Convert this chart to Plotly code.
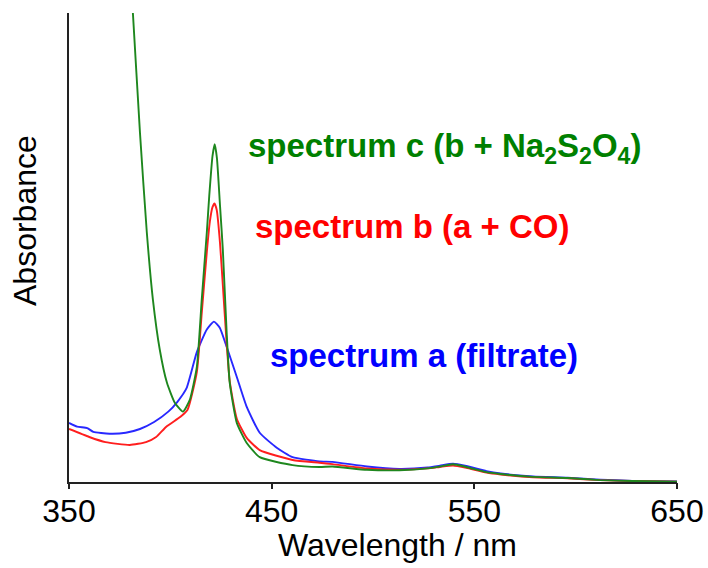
import plotly.graph_objects as go

# Wavelength (nm) and absorbance (arbitrary units, 0-100 full scale)
wl_a = [350, 354, 359, 362, 370, 378, 385, 392, 399, 403.5, 408, 413, 418, 421.5, 424.4,
        427.8, 432.8, 437.7, 444.1, 452.5, 460.3, 473.6, 480, 497, 513, 527, 533, 539.5,
        546, 556, 563, 579, 596, 612, 628, 650]
abs_a = [12.6, 11.8, 11.5, 10.7, 10.3, 10.5, 11.3, 12.8, 15.0, 17.1, 20.0, 27.6, 32.5, 34.2, 32.9,
         28.8, 22.4, 16.0, 10.5, 7.3, 5.3, 4.4, 4.3, 3.3, 2.8, 3.1, 3.5, 3.9,
         3.4, 2.3, 1.8, 1.2, 0.9, 0.5, 0.25, 0.1]

wl_b = [350, 360, 368, 380, 388, 393, 398, 405, 408.5, 413.1, 415.5, 418, 419.5, 420.8, 421.8,
        422.9, 424.5, 425.9, 427.8, 429.3, 432.8, 437.7, 444.1, 460.3, 473.6, 480, 497, 513,
        527, 533, 539.5, 546, 556, 563, 579, 596, 612, 628, 650]
abs_b = [11.3, 9.6, 8.5, 7.9, 8.5, 9.6, 11.8, 13.9, 15.4, 23.5, 36.0, 49.0, 55.5, 58.6, 59.4,
         58.0, 51.0, 42.0, 29.5, 21.5, 13.5, 9.4, 6.8, 4.7, 4.1, 3.8, 2.9, 2.6,
         2.9, 3.2, 3.5, 3.0, 2.0, 1.6, 1.0, 0.8, 0.4, 0.2, 0.05]

wl_c = [379, 381.5, 385.0, 388.4, 391.4, 394.8, 398.3, 402.2, 406.2, 409.6, 413.1, 415.5, 418.0,
        419.2, 420.8, 421.9, 423.0, 424.5, 425.9, 427.8, 429.3, 432.8, 437.7, 444.1, 460.3,
        473.6, 480, 497, 513, 527, 533, 539.5, 546, 556, 563, 579, 596, 612, 628, 650]
abs_c = [118, 100.2, 74.6, 53.2, 38.9, 28.2, 21.2, 16.9, 15.0, 17.5, 24.6, 38.9, 53.2,
         61.0, 69.5, 72.0, 69.0, 59.0, 49.6, 31.8, 21.2, 12.6, 8.3, 5.3, 3.6,
         3.2, 3.3, 2.6, 2.5, 2.9, 3.3, 3.8, 3.2, 2.1, 1.7, 1.1, 0.85, 0.4, 0.2, 0.05]

x_ticks = [350, 450, 550, 650]
x_range = [350, 650]

FONT = "Liberation Sans, Arial, Helvetica, sans-serif"

fig = go.Figure()
fig.add_trace(go.Scatter(x=wl_a, y=abs_a, mode="lines",
                         line=dict(color="rgb(40,40,255)", width=1.9, shape="spline", smoothing=0.5)))
fig.add_trace(go.Scatter(x=wl_b, y=abs_b, mode="lines",
                         line=dict(color="rgb(255,30,30)", width=1.9, shape="spline", smoothing=0.5)))
fig.add_trace(go.Scatter(x=wl_c, y=abs_c, mode="lines",
                         line=dict(color="rgb(30,135,30)", width=1.9, shape="spline", smoothing=0.5)))

L, R, T, B = 69, 31, 13, 86
W, H = 708, 568
pw, ph = W - L - R, H - T - B

def px(xp):
    return (xp - L) / pw

def py(yp):
    return (H - B - yp) / ph

annotations = [
    dict(text="<b>spectrum c (b + Na<sub>2</sub>S<sub>2</sub>O<sub>4</sub>)</b>",
         x=px(246), y=py(148), xanchor="left", yanchor="middle",
         font=dict(color="rgb(0,128,0)", size=33, family=FONT)),
    dict(text="<b>spectrum b (a + CO)</b>",
         x=px(253), y=py(227), xanchor="left", yanchor="middle",
         font=dict(color="rgb(255,0,0)", size=33, family=FONT)),
    dict(text="<b>spectrum a (filtrate)</b>",
         x=px(268), y=py(355), xanchor="left", yanchor="middle",
         font=dict(color="rgb(0,0,255)", size=33, family=FONT)),
    dict(text="Wavelength / nm", x=px(397), y=py(545), xanchor="center", yanchor="middle",
         font=dict(color="black", size=32, family=FONT)),
    dict(text="Absorbance", x=px(25), y=py(221), xanchor="center", yanchor="middle",
         textangle=-90, font=dict(color="black", size=32, family=FONT)),
]
for a in annotations:
    a.update(xref="paper", yref="paper", showarrow=False)

fig.update_layout(
    width=W, height=H,
    margin=dict(l=L, r=R, t=T, b=B, autoexpand=False),
    paper_bgcolor="white", plot_bgcolor="white",
    showlegend=False,
    annotations=annotations,
    font=dict(family=FONT, color="black", size=32),
    xaxis=dict(range=x_range, tickvals=x_ticks, ticktext=[str(v) for v in x_ticks],
               automargin=False, showgrid=False, zeroline=False,
               showline=True, linecolor="#222", linewidth=2, ticks="",
               tickfont=dict(size=32, family=FONT, color="black")),
    # tick marks only (outside), on an overlaying axis so labels sit closer to the line
    xaxis2=dict(range=x_range, tickvals=x_ticks, overlaying="x", side="bottom",
                anchor="y", automargin=False, showgrid=False, zeroline=False,
                showline=False, showticklabels=False,
                ticks="outside", ticklen=6, tickwidth=1.5, tickcolor="#222"),
    yaxis=dict(range=[0, 100], automargin=False, showgrid=False, zeroline=False, showline=True,
               linecolor="#222", linewidth=2, showticklabels=False, ticks=""),
)
# invisible helper trace so the tick-mark axis is drawn
fig.add_trace(go.Scatter(x=[x_range[0]], y=[None], xaxis="x2", yaxis="y",
                         mode="lines", hoverinfo="skip", showlegend=False))

fig.write_html("out.html", config={"displayModeBar": False},
               post_script="document.body.style.margin='0';document.body.style.overflow='hidden';")
